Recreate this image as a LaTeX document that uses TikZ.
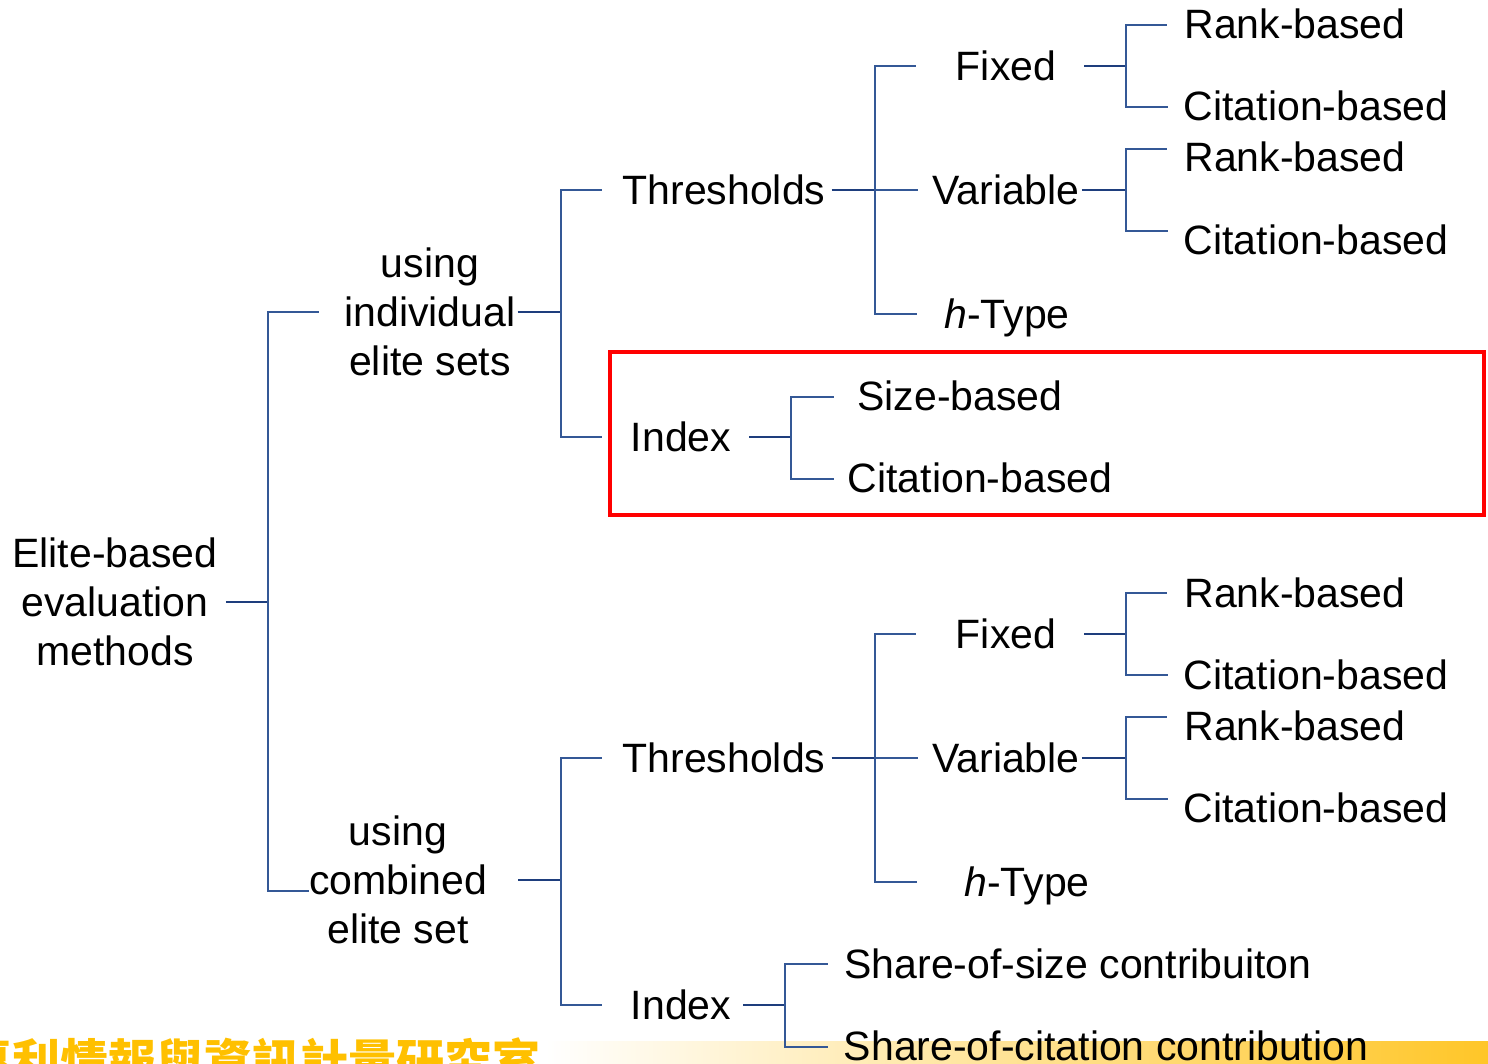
\documentclass[tikz,border=0pt]{standalone}
\usepackage{fontspec}
\setmainfont{Liberation Sans}
\newfontfamily\cjk{Noto Sans CJK TC}
\begin{document}
\begin{tikzpicture}[x=1pt,y=-1pt,
  lbl/.style={inner sep=0pt, font=\fontsize{41}{49}\selectfont,
              text height=29.4pt, text depth=0pt},
  multi/.style={inner sep=0pt, align=center, font=\fontsize{41}{49}\selectfont},
  thin/.style={draw=treeblue, line width=1.4pt},
  thick/.style={draw=treedark, line width=2.6pt},
]
\definecolor{treeblue}{RGB}{52,88,150}
\definecolor{treedark}{RGB}{30,62,125}
\definecolor{gold}{RGB}{255,192,0}
\definecolor{stripgold}{RGB}{255,198,40}

\useasboundingbox (0,0) rectangle (1488,1064);
\clip (0,0) rectangle (1488,1064);

% footer strip
\shade[left color=white, right color=stripgold] (545,1041) rectangle (1488,1064);
\node[anchor=base west, inner sep=0pt, text=gold,
      font=\cjk\bfseries\fontsize{48}{48}\selectfont] (lab) at (-36,1079) {專利情報與資訊計量研究室};

% root and first level
\node[multi] (root) at (115,602) {Elite-based\\evaluation\\methods};
\node[multi] (ind)  at (430,312) {using\\individual\\elite sets};
\node[multi] (comb) at (398,880) {using\\combined\\elite set};

% upper subtree
\node[lbl] (thr1) at (724,190) {Thresholds};
\node[lbl] (fix1) at (1006,66) {Fixed};
\node[lbl] (var1) at (1006,190) {Variable};
\node[lbl] (ht1)  at (1007,314) {\textit{h}-Type};
\node[lbl] (rb1)  at (1295,24) {Rank-based};
\node[lbl] (cb1)  at (1316,106) {Citation-based};
\node[lbl] (rb2)  at (1295,157) {Rank-based};
\node[lbl] (cb2)  at (1316,240) {Citation-based};
\node[lbl] (idx1) at (681,437) {Index};
\node[lbl] (sb)   at (960,396) {Size-based};
\node[lbl] (cbi)  at (980,478) {Citation-based};

% lower subtree
\node[lbl] (thr2) at (724,758) {Thresholds};
\node[lbl] (fix2) at (1006,634) {Fixed};
\node[lbl] (var2) at (1006,758) {Variable};
\node[lbl] (ht2)  at (1027,882) {\textit{h}-Type};
\node[lbl] (rb3)  at (1295,593) {Rank-based};
\node[lbl] (cb3)  at (1316,675) {Citation-based};
\node[lbl] (rb4)  at (1295,726) {Rank-based};
\node[lbl] (cb4)  at (1316,808) {Citation-based};
\node[lbl] (idx2) at (681,1005) {Index};
\node[lbl] (sos)  at (1078,964) {Share-of-size contribuiton};
\node[lbl] (soc)  at (1106,1046) {Share-of-citation contribution};

% junctions
\coordinate (j0) at (268,602);
\coordinate (j1) at (561,312);
\coordinate (j2) at (875,190);
\coordinate (j3) at (1126,66);
\coordinate (j4) at (1126,190);
\coordinate (j5) at (791,437);
\coordinate (j6) at (561,880);
\coordinate (j7) at (875,758);
\coordinate (j8) at (1126,634);
\coordinate (j9) at (1126,758);
\coordinate (j10) at (785,1005);

% root connectors
\draw[thick, shorten <=8pt] (root.east) -- (j0);
\draw[thin, shorten >=25pt] (j0) |- (ind.west);
\draw[thin] (j0) |- ([yshift=-11pt]comb.west);

% individual elite sets
\draw[thick, shorten <=2pt] (ind.east) -- (j1);
\draw[thin, shorten >=20pt] (j1) |- (thr1.west);
\draw[thin, shorten >=29pt] (j1) |- (idx1.west);

\draw[thick, shorten <=6pt] (thr1.east) -- (j2);
\draw[thin, shorten >=40pt] (j2) |- (fix1.west);
\draw[thin, shorten >=14pt] (j2) -- (var1.west);
\draw[thin, shorten >=27pt] (j2) |- (ht1.west);

\draw[thick, shorten <=28pt] (fix1.east) -- (j3);
\draw[thin, shorten >=17pt] (j3) |- ([yshift=-1pt]rb1.west);
\draw[thin, shorten >=16pt] (j3) |- ([yshift=-1pt]cb1.west);

\draw[thick, shorten <=2pt] (var1.east) -- (j4);
\draw[thin, shorten >=17pt] (j4) |- ([yshift=8pt]rb2.west);
\draw[thin, shorten >=16pt] (j4) |- ([yshift=9pt]cb2.west);

\draw[thick, shorten <=18pt] (idx1.east) -- (j5);
\draw[thin, shorten >=23pt] (j5) |- ([yshift=-1pt]sb.west);
\draw[thin, shorten >=14pt] (j5) |- ([yshift=-1pt]cbi.west);

% combined elite set
\draw[thick, shorten <=31pt] (comb.east) -- (j6);
\draw[thin, shorten >=20pt] (j6) |- (thr2.west);
\draw[thin, shorten >=29pt] (j6) |- (idx2.west);

\draw[thick, shorten <=6pt] (thr2.east) -- (j7);
\draw[thin, shorten >=40pt] (j7) |- (fix2.west);
\draw[thin, shorten >=14pt] (j7) -- (var2.west);
\draw[thin, shorten >=47pt] (j7) |- (ht2.west);

\draw[thick, shorten <=28pt] (fix2.east) -- (j8);
\draw[thin, shorten >=17pt] (j8) |- (rb3.west);
\draw[thin, shorten >=16pt] (j8) |- (cb3.west);

\draw[thick, shorten <=2pt] (var2.east) -- (j9);
\draw[thin, shorten >=17pt] (j9) |- ([yshift=9pt]rb4.west);
\draw[thin, shorten >=16pt] (j9) |- ([yshift=9pt]cb4.west);

\draw[thick, shorten <=12pt] (idx2.east) -- (j10);
\draw[thin, shorten >=16pt] (j10) |- (sos.west);
\draw[thin, shorten >=16pt] (j10) |- ([yshift=-1pt]soc.west);

% highlight frame round the index branch
\draw[red, line width=4pt] (610,352) rectangle (1484,515);
\end{tikzpicture}
\end{document}
